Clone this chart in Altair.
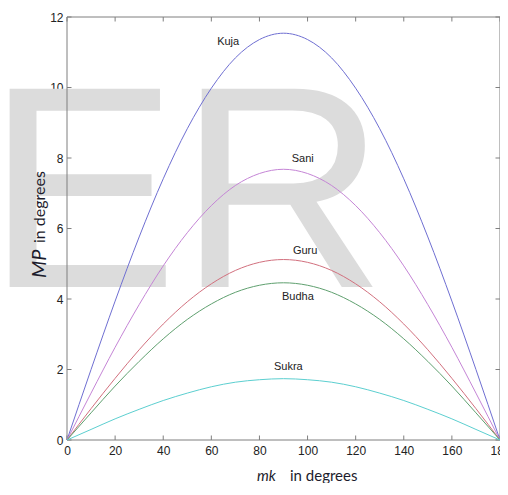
import altair as alt
import pandas as pd

# x values (mk, degrees)
mk = [0, 10, 20, 30, 40, 50, 60, 70, 80, 90, 100, 110, 120, 130, 140, 150, 160, 170, 180]

# MP values
kuja = [0, 2.00, 3.94, 5.76, 7.41, 8.83, 9.98, 10.84, 11.36, 11.54, 11.36, 10.84, 9.98, 8.83, 7.41, 5.76, 3.94, 2.00, 0]
sani = [0, 1.33, 2.63, 3.84, 4.94, 5.88, 6.65, 7.22, 7.56, 7.68, 7.56, 7.22, 6.65, 5.88, 4.94, 3.84, 2.63, 1.33, 0]
guru = [0, 0.89, 1.75, 2.56, 3.29, 3.92, 4.43, 4.81, 5.04, 5.12, 5.04, 4.81, 4.43, 3.92, 3.29, 2.56, 1.75, 0.89, 0]
budha = [0, 0.77, 1.53, 2.23, 2.87, 3.42, 3.86, 4.19, 4.39, 4.46, 4.39, 4.19, 3.86, 3.42, 2.87, 2.23, 1.53, 0.77, 0]
sukra = [0, 0.30, 0.60, 0.87, 1.12, 1.33, 1.51, 1.64, 1.71, 1.74, 1.71, 1.64, 1.51, 1.33, 1.12, 0.87, 0.60, 0.30, 0]

series_names = ["Kuja", "Sani", "Guru", "Budha", "Sukra"]
series_colors = ["#6f6fd2", "#c585d6", "#d2707e", "#5fa06f", "#5ccfd0"]

# label positions (data coords)
label_x = [67, 98, 99, 96, 92]
label_y = [11.29, 7.97, 5.36, 4.07, 2.06]

x_ticks = [0, 20, 40, 60, 80, 100, 120, 140, 160, 180]
y_ticks = [0, 2, 4, 6, 8, 10, 12]

W, H = 433, 423

rows = []
for name, vals in zip(series_names, [kuja, sani, guru, budha, sukra]):
    for xv, yv in zip(mk, vals):
        rows.append({"mk": xv, "MP": yv, "planet": name})
df = pd.DataFrame(rows)
labels_df = pd.DataFrame({"x": label_x, "y": label_y, "text": series_names})
xt_df = pd.DataFrame({"v": x_ticks})
yt_df = pd.DataFrame({"v": y_ticks})

xs = alt.Scale(domain=[0, 180], nice=False, zero=False)
ys = alt.Scale(domain=[0, 12], nice=False, zero=False)

label_font = "Liberation Sans"

x_axis = alt.Axis(values=x_ticks, ticks=False, domain=False, grid=False, title=None, labelFlush=False,
                  labelFont=label_font, labelFontSize=12, labelColor="#222222", labelPadding=5)
y_axis = alt.Axis(values=y_ticks, ticks=False, domain=False, grid=False, title=None, labelFlush=False,
                  labelFont=label_font, labelFontSize=12, labelColor="#222222", labelPadding=4)

watermark = alt.Chart(pd.DataFrame({"t": ["ER"]})).mark_text(
    font="Liberation Sans", fontSize=288, color="#dcdcdc", align="left", baseline="alphabetic"
).encode(x=alt.value(-81), y=alt.value(270), text="t:N")

lines = alt.Chart(df).mark_line(strokeWidth=1, interpolate="monotone").encode(
    x=alt.X("mk:Q", scale=xs, axis=x_axis),
    y=alt.Y("MP:Q", scale=ys, axis=y_axis),
    color=alt.Color("planet:N", scale=alt.Scale(domain=series_names, range=series_colors), legend=None),
    detail="planet:N",
)

labels = alt.Chart(labels_df).mark_text(font=label_font, fontSize=11, color="#222222").encode(
    x=alt.X("x:Q", scale=xs), y=alt.Y("y:Q", scale=ys), text="text:N"
)

tick_color = "#7f7f7f"
xt_bottom = alt.Chart(xt_df).mark_rule(color=tick_color, strokeWidth=1).encode(
    x=alt.X("v:Q", scale=xs), y=alt.value(H), y2=alt.value(H - 4.5))
xt_top = alt.Chart(xt_df).mark_rule(color=tick_color, strokeWidth=1).encode(
    x=alt.X("v:Q", scale=xs), y=alt.value(0), y2=alt.value(4.5))
yt_left = alt.Chart(yt_df).mark_rule(color=tick_color, strokeWidth=1).encode(
    y=alt.Y("v:Q", scale=ys), x=alt.value(0), x2=alt.value(4.5))
yt_right = alt.Chart(yt_df).mark_rule(color=tick_color, strokeWidth=1).encode(
    y=alt.Y("v:Q", scale=ys), x=alt.value(W), x2=alt.value(W - 4.5))

frame_df = pd.DataFrame({"a": [0]})
frame = alt.Chart(frame_df).mark_rect(fill=None, stroke=tick_color, strokeWidth=1).encode(
    x=alt.value(0), x2=alt.value(W), y=alt.value(0), y2=alt.value(H))

title_color = "#1c1c2c"
xt1 = alt.Chart(pd.DataFrame({"t": ["mk"]})).mark_text(
    font="Lato", fontSize=15, fontStyle="italic", color=title_color, align="left", baseline="middle"
).encode(x=alt.value(190), y=alt.value(459), text="t:N")
xt2 = alt.Chart(pd.DataFrame({"t": ["in degrees"]})).mark_text(
    font="Lato", fontSize=15, color=title_color, align="left", baseline="middle"
).encode(x=alt.value(223), y=alt.value(459), text="t:N")
yt1 = alt.Chart(pd.DataFrame({"t": ["MP"]})).mark_text(
    font="Lato", fontSize=20, fontStyle="italic", color=title_color, align="left", baseline="middle", angle=270
).encode(x=alt.value(-27), y=alt.value(261), text="t:N")
yt2 = alt.Chart(pd.DataFrame({"t": ["in degrees"]})).mark_text(
    font="Lato", fontSize=16, color=title_color, align="left", baseline="middle", angle=270
).encode(x=alt.value(-27), y=alt.value(226), text="t:N")

chart = alt.layer(
    watermark, frame, xt_bottom, xt_top, yt_left, yt_right, lines, labels, xt1, xt2, yt1, yt2
).properties(
    width=W, height=H,
    autosize=alt.AutoSizeParams(type="none"),
    padding={"left": 59, "top": 9, "right": 0, "bottom": 43},
    background="white",
).configure_view(stroke=None)

chart.save("out.html", embed_options={"renderer": "svg", "actions": False})
